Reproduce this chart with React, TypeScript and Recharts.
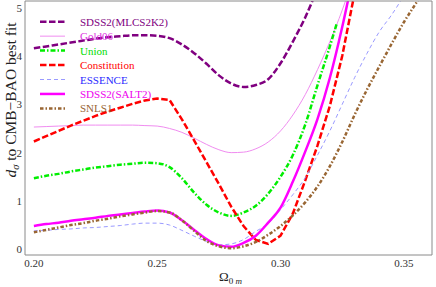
import { LineChart, Line, XAxis, YAxis, Legend, Label } from "recharts";

// Omega_0m grid shared by all curves
const omega = [
  0.2, 0.205, 0.21, 0.215, 0.22, 0.225, 0.23, 0.235, 0.24, 0.245, 0.25,
  0.255, 0.26, 0.265, 0.27, 0.275, 0.28, 0.285, 0.29, 0.295, 0.3,
  0.305, 0.31, 0.315, 0.32, 0.325, 0.33, 0.335, 0.34, 0.345, 0.35, 0.355, 0.36,
];

const mlcs2k2 = [
  4.16, 4.2, 4.24, 4.28, 4.32, 4.36, 4.39, 4.41, 4.43, 4.43, 4.42,
  4.37, 4.24, 4.06, 3.84, 3.6, 3.43, 3.36, 3.4, 3.52, 3.85,
  4.3, 4.8, 5.4,
];
const gold06 = [
  2.53, 2.54, 2.55, 2.56, 2.57, 2.57, 2.57, 2.57, 2.57, 2.56, 2.55,
  2.5, 2.42, 2.3, 2.17, 2.06, 2.0, 2.01, 2.08, 2.22, 2.45,
  2.78, 3.2, 3.72, 4.3, 4.95, 5.7,
];
const union = [
  1.47, 1.52, 1.56, 1.61, 1.65, 1.69, 1.72, 1.75, 1.77, 1.79, 1.78,
  1.7, 1.47, 1.17, 0.92, 0.76, 0.69, 0.76, 0.9, 1.15, 1.5,
  1.95, 2.58, 3.4, 4.2,
];
const unionEndOmega = 0.3227;
const unionEndValue = 4.66;
const constitution = [
  2.23, 2.34, 2.45, 2.56, 2.66, 2.76, 2.85, 2.93, 3.01, 3.08, 3.12,
  3.09, 2.69, 2.25, 1.8, 1.35, 0.88, 0.48, 0.19, 0.11, 0.28,
  0.74, 1.42, 2.15, 2.97, 4.0, 5.3,
];
const essence = [
  0.38, 0.39, 0.41, 0.42, 0.44, 0.45, 0.47, 0.49, 0.52, 0.54, 0.54,
  0.5, 0.39, 0.27, 0.16, 0.09, 0.11, 0.2, 0.37, 0.53, 0.82,
  1.13, 1.48, 1.95, 2.45, 3.0, 3.55, 4.05, 4.5, 4.85, 5.25,
];
const salt2 = [
  0.48, 0.52, 0.55, 0.59, 0.62, 0.65, 0.69, 0.72, 0.75, 0.78, 0.8,
  0.76, 0.6, 0.4, 0.21, 0.08, 0.05, 0.13, 0.28, 0.55, 0.86,
  1.4, 2.02, 2.7, 3.55, 4.6, 5.8,
];
const snls1 = [
  0.35, 0.4, 0.45, 0.5, 0.54, 0.59, 0.63, 0.68, 0.72, 0.76, 0.79,
  0.76, 0.6, 0.38, 0.17, 0.06, 0.02, 0.06, 0.15, 0.3, 0.48,
  0.7, 0.97, 1.3, 1.72, 2.22, 2.78, 3.3, 3.78, 4.25, 4.7, 5.1, 5.5,
];

const xTicks = [0.2, 0.25, 0.3, 0.35];
const xMinorTicks = [
  0.2, 0.21, 0.22, 0.23, 0.24, 0.25, 0.26, 0.27, 0.28, 0.29, 0.3,
  0.31, 0.32, 0.33, 0.34, 0.35, 0.36,
];
const yTicks = [0, 1, 2, 3, 4, 5];
const yMinorTicks = [
  0, 0.2, 0.4, 0.6, 0.8, 1, 1.2, 1.4, 1.6, 1.8, 2, 2.2, 2.4, 2.6, 2.8, 3,
  3.2, 3.4, 3.6, 3.8, 4, 4.2, 4.4, 4.6, 4.8, 5,
];

const X_DOMAIN: [number, number] = [0.1964, 0.3614];
const Y_DOMAIN: [number, number] = [-0.12, 5.14];
const FRAME = "#8a8a8a";
const SERIF = "Liberation Serif, DejaVu Serif, serif";

const series = [
  { key: "mlcs", name: "SDSS2(MLCS2K2)", values: mlcs2k2, stroke: "#800080", text: "#800080", width: 2.5, dash: "6.5 2.5" },
  { key: "gold", name: "Gold06", values: gold06, stroke: "#f08cf0", text: "#e030e0", width: 1, dash: undefined },
  { key: "union", name: "Union", values: union, stroke: "#00ee00", text: "#00dd00", width: 2.5, dash: "5 2 1.5 2" },
  { key: "const", name: "Constitution", values: constitution, stroke: "#ff0000", text: "#ff0000", width: 2.5, dash: "6.5 2.5" },
  { key: "essence", name: "ESSENCE", values: essence, stroke: "#9a9aff", text: "#2a2aff", width: 1, dash: "4 3" },
  { key: "salt2", name: "SDSS2(SALT2)", values: salt2, stroke: "#ff00ff", text: "#ee00ee", width: 2.5, dash: undefined },
  { key: "snls", name: "SNLS1", values: snls1, stroke: "#996633", text: "#996633", width: 2.5, dash: "3.5 2 1.5 2" },
];

const rows: any[] = omega.map((x, i) => {
  const row: any = { x };
  series.forEach((s) => {
    row[s.key] = s.values[i] ?? null;
  });
  return row;
});
rows.push({ x: unionEndOmega, union: unionEndValue });
rows.sort((a, b) => a.x - b.x);

function LegendBox() {
  return (
    <svg width={150} height={104} style={{ display: "block" }}>
      {series.map((s, i) => {
        const cy = 7.7 + i * 14.45;
        return (
          <g key={s.key}>
            <line x1={10} x2={35} y1={cy} y2={cy} stroke={s.stroke} strokeWidth={s.width} strokeDasharray={s.dash} />
            <text x={50} y={cy + 4} style={{ fontFamily: SERIF }} fontSize={11} fill={s.text}>
              {s.name}
            </text>
          </g>
        );
      })}
    </svg>
  );
}

function YTitle(props: any) {
  const vb = props.viewBox || { x: 0, y: 1 };
  const cx = vb.x + 15.5;
  const cy = 100;
  return (
    <text x={cx} y={cy} transform={`rotate(-90, ${cx}, ${cy})`} textAnchor="middle" style={{ fontFamily: SERIF }} fontSize={15.5} fill="#222">
      <tspan fontStyle="italic">d</tspan>
      <tspan fontStyle="italic" fontSize={10.5} dy={3}>σ</tspan>
      <tspan dy={-3}> to CMB−BAO best fit</tspan>
    </text>
  );
}

function XTitle(props: any) {
  const vb = props.viewBox || { x: 25, y: 255, width: 407 };
  const cx = vb.x + vb.width / 2 + 2;
  return (
    <text x={cx} y={281} textAnchor="middle" style={{ fontFamily: SERIF }} fontSize={13} fill="#222">
      <tspan>Ω</tspan>
      <tspan fontSize={9} dy={2.5}>0</tspan>
      <tspan fontSize={9} fontStyle="italic"> m</tspan>
    </text>
  );
}

const tickFont = { fontSize: 11, fill: "#333", style: { fontFamily: SERIF } };

export default function App() {
  return (
    <div style={{ width: 436, height: 287, fontFamily: SERIF }}>
      <style>{"body{margin:0}"}</style>
      <LineChart width={436} height={287} data={rows} margin={{ top: 1, right: 4, bottom: 0, left: 0 }}
        style={{ fontFamily: SERIF }}>
        {/* labelled axes */}
        <XAxis xAxisId="x" dataKey="x" type="number" domain={X_DOMAIN} allowDataOverflow ticks={xTicks} interval={0}
          tickFormatter={(v: number) => v.toFixed(2)} tick={tickFont} tickLine={false} axisLine={false}
          tickSize={0} tickMargin={4} height={32}>
          <Label content={<XTitle />} />
        </XAxis>
        <YAxis yAxisId="y" type="number" domain={Y_DOMAIN} allowDataOverflow ticks={yTicks} interval={0}
          tick={tickFont} tickLine={false} axisLine={false} tickSize={0} tickMargin={3} width={25}>
          <Label content={<YTitle />} />
        </YAxis>

        {/* frame with inward ticks */}
        <XAxis xAxisId="xb" dataKey="x" type="number" domain={X_DOMAIN} allowDataOverflow mirror ticks={xTicks} interval={0}
          tick={false} tickSize={5} axisLine={{ stroke: FRAME }} tickLine={{ stroke: FRAME }} />
        <XAxis xAxisId="xbm" dataKey="x" type="number" domain={X_DOMAIN} allowDataOverflow mirror ticks={xMinorTicks} interval={0}
          tick={false} tickSize={3} axisLine={false} tickLine={{ stroke: FRAME }} />
        <XAxis xAxisId="xt" dataKey="x" orientation="top" type="number" domain={X_DOMAIN} allowDataOverflow mirror ticks={xTicks} interval={0}
          tick={false} tickSize={5} axisLine={{ stroke: FRAME }} tickLine={{ stroke: FRAME }} />
        <XAxis xAxisId="xtm" dataKey="x" orientation="top" type="number" domain={X_DOMAIN} allowDataOverflow mirror ticks={xMinorTicks} interval={0}
          tick={false} tickSize={3} axisLine={false} tickLine={{ stroke: FRAME }} />
        <YAxis yAxisId="yl" type="number" domain={Y_DOMAIN} allowDataOverflow mirror ticks={yTicks} interval={0}
          tick={false} tickSize={5} axisLine={{ stroke: FRAME }} tickLine={{ stroke: FRAME }} />
        <YAxis yAxisId="ylm" type="number" domain={Y_DOMAIN} allowDataOverflow mirror ticks={yMinorTicks} interval={0}
          tick={false} tickSize={3} axisLine={false} tickLine={{ stroke: FRAME }} />
        <YAxis yAxisId="yr" orientation="right" type="number" domain={Y_DOMAIN} allowDataOverflow mirror ticks={yTicks} interval={0}
          tick={false} tickSize={5} axisLine={{ stroke: FRAME }} tickLine={{ stroke: FRAME }} />
        <YAxis yAxisId="yrm" orientation="right" type="number" domain={Y_DOMAIN} allowDataOverflow mirror ticks={yMinorTicks} interval={0}
          tick={false} tickSize={3} axisLine={false} tickLine={{ stroke: FRAME }} />

        <Legend layout="vertical" align="center" verticalAlign="middle"
          wrapperStyle={{ top: 14, left: 30, width: 150, height: 104 }} content={() => <LegendBox />} />

        {series.map((s) => (
          <Line key={s.key} xAxisId="x" yAxisId="y" dataKey={s.key} name={s.name}
            type={s.key === "const" ? "linear" : "monotone"} stroke={s.stroke} strokeWidth={s.width}
            strokeDasharray={s.dash} dot={false} activeDot={false} connectNulls isAnimationActive={false} />
        ))}
      </LineChart>
    </div>
  );
}
